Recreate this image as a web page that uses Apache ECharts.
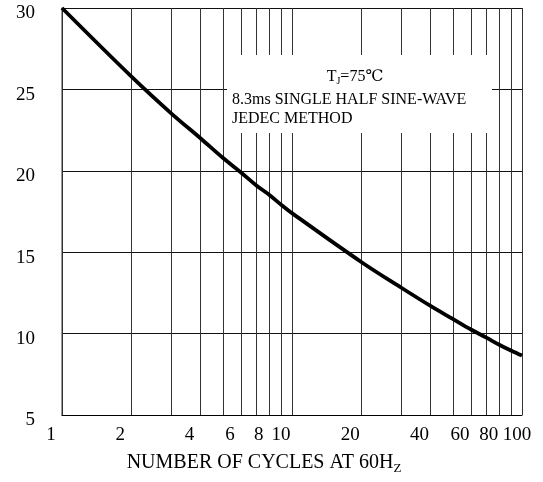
<!DOCTYPE html>
<html>
<head>
<meta charset="utf-8">
<script src="https://cdn.jsdelivr.net/npm/echarts@6/dist/echarts.min.js"></script>
<style>
html,body{margin:0;padding:0;background:#fff;}
#chart{width:543px;height:482px;}
</style>
</head>
<body>
<div id="chart"></div>
<script>
// Data (surge current vs number of cycles)
const cycles = [1, 2, 3, 4, 5, 6, 7, 8, 9, 10, 20, 30, 40, 50, 60, 70, 80, 90, 100];
const surgeCurrent = [30, 25.8, 23.5, 22.0, 20.8, 19.9, 19.1, 18.5, 17.9, 17.4, 14.4, 12.8, 11.7, 10.9, 10.25, 9.75, 9.3, 8.95, 8.65];
const xGridValues = [1, 2, 3, 4, 5, 6, 7, 8, 9, 10, 20, 30, 40, 50, 60, 70, 80, 90, 100];
const xTickLabels = [1, 2, 4, 6, 8, 10, 20, 40, 60, 80, 100];
const yMin = 5, yMax = 30, yStep = 5;
const xAxisTitle = 'NUMBER OF CYCLES AT 60H{sub|Z}';
const noteLines = ['T{sub|J}=75℃', '8.3ms SINGLE HALF SINE-WAVE', 'JEDEC METHOD'];

const serif = "'Liberation Serif', 'Times New Roman', 'DejaVu Serif', serif";
const chart = echarts.init(document.getElementById('chart'), null, {renderer: 'canvas'});

const option = {
  backgroundColor: '#fff',
  animation: false,
  grid: {left: 62, right: 21, top: 8, bottom: 67},
  xAxis: {
    type: 'log',
    logBase: 10,
    min: 1,
    max: 100,
    name: xAxisTitle,
    nameLocation: 'middle',
    nameGap: 36,
    nameTextStyle: {
      color: '#000', fontFamily: serif, fontSize: 20,
      padding: [0, 56, 0, 0],
      rich: {sub: {fontFamily: serif, fontSize: 13, color: '#000', padding: [11, 0, 0, 0]}}
    },
    axisLine: {show: true, lineStyle: {color: '#000', width: 1}},
    axisTick: {show: false},
    splitLine: {show: false},
    axisLabel: {
      customValues: xTickLabels,
      margin: 11,
      formatter: v => {
        const n = Math.round(v);
        return n === 100 ? '{e|' + n + '}' : '{n|' + n + '}';
      },
      rich: {
        n: {color: '#000', fontFamily: serif, fontSize: 19, padding: [0, 22, 0, 0]},
        e: {color: '#000', fontFamily: serif, fontSize: 19, padding: [0, 10, 0, 0]}
      }
    }
  },
  yAxis: {
    type: 'value',
    min: yMin,
    max: yMax,
    interval: yStep,
    axisLine: {show: true, lineStyle: {color: '#777', width: 1.5}},
    axisTick: {show: false},
    axisLabel: {
      margin: 27,
      formatter: v => '{y|' + v + '}',
      rich: {y: {color: '#000', fontFamily: serif, fontSize: 19, padding: [11, 0, 0, 0]}}
    },
    splitLine: {show: true, lineStyle: {color: '#111', width: 1}}
  },
  series: [{
    type: 'line',
    data: cycles.map((c, i) => [c, surgeCurrent[i]]),
    smooth: 0.35,
    symbol: 'none',
    lineStyle: {color: '#000', width: 3.8},
    z: 5,
    markLine: {
      silent: true,
      symbol: ['none', 'none'],
      label: {show: false},
      lineStyle: {color: '#333', width: 1, type: 'solid'},
      data: xGridValues.map(v => ({xAxis: v}))
    }
  }],
  graphic: {
    elements: [
      {type: 'rect', z: 100, shape: {x: 227, y: 55, width: 265, height: 78}, style: {fill: '#fff'}},
      {type: 'text', z: 101, x: 355, y: 68, style: {
        text: noteLines[0], fill: '#000', font: '16px ' + serif, align: 'center',
        rich: {sub: {fontSize: 10, fontFamily: serif, fill: '#000', padding: [8, 0, 0, 0]}}
      }},
      {type: 'text', z: 101, x: 232, y: 92, style: {text: noteLines[1], fill: '#000', font: '16px ' + serif}},
      {type: 'text', z: 101, x: 232, y: 111, style: {text: noteLines[2], fill: '#000', font: '16px ' + serif}}
    ]
  }
};
chart.setOption(option);
</script>
</body>
</html>
